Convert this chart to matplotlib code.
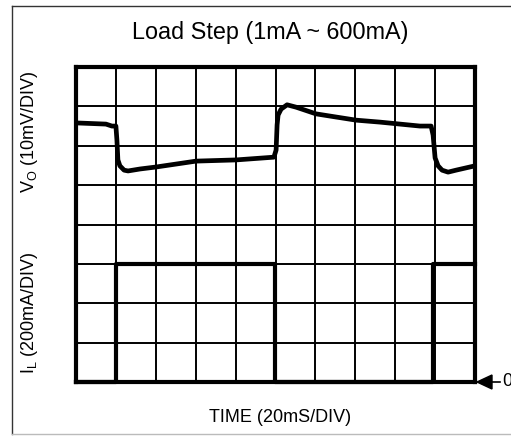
import matplotlib
matplotlib.use("Agg")
import matplotlib.pyplot as plt
from matplotlib.patches import Polygon
from matplotlib.lines import Line2D

plt.rcParams['font.family'] = ['Liberation Sans', 'DejaVu Sans']
plt.rcParams['mathtext.fontset'] = 'custom'
plt.rcParams['mathtext.rm'] = 'Liberation Sans'
plt.rcParams['mathtext.it'] = 'Liberation Sans'

# ---- data ----
title = "Load Step (1mA ~ 600mA)"
xlabel = "TIME (20mS/DIV)"
vo_label = r"$\mathregular{V_O}$ (10mV/DIV)"
il_label = r"$\mathregular{I_L}$ (200mA/DIV)"

# time in ms (20 ms/div), Vo trace position in divisions from bottom of screen
vo_time = [0, 15, 18, 20, 20.5, 21, 22, 24.1, 26.1, 32.1, 40.1, 60.2, 80.2, 99.2,
           100.3, 100.8, 101.3, 102.8, 105.8, 110.3, 120.3, 130.3, 140.4, 152.4,
           162.4, 172.4, 178, 179, 180, 181.5, 183.5, 186.5, 190.5, 200]
vo_div = [6.58, 6.55, 6.50, 6.50, 6.15, 5.64, 5.49, 5.38, 5.36, 5.41, 5.46, 5.61, 5.64, 5.71,
          5.89, 6.53, 6.78, 6.93, 7.04, 6.98, 6.81, 6.73, 6.65, 6.60,
          6.55, 6.50, 6.50, 6.27, 5.69, 5.49, 5.38, 5.33, 5.38, 5.49]

# load current (mA)
il_time = [0, 19.8, 19.8, 20.3, 20.3, 99.8, 99.8, 179, 179, 200]
il_ma = [0, 0, 220, 220, 600, 600, 0, 0, 600, 600]
il_scale = 200.0  # mA per division

n_xdiv = 10
n_ydiv = 8
ms_per_div = 20

# ---- figure ----
W, H = 511, 438
fig = plt.figure(figsize=(W / 100, H / 100), dpi=100)
fig.patch.set_facecolor('white')

# outer frame
fig.add_artist(Line2D([12 / W, 12 / W], [1 - 6 / H, 1 - 434 / H], color='#333333', lw=1.0))
fig.add_artist(Line2D([12 / W, 1.02], [1 - 6 / H, 1 - 6 / H], color='#333333', lw=1.0))
fig.add_artist(Line2D([12 / W, 1.02], [1 - 434 / H, 1 - 434 / H], color='#bbbbbb', lw=1.0))

x0, x1, y0, y1 = 76, 475, 67, 382
ax = fig.add_axes([x0 / W, 1 - y1 / H, (x1 - x0) / W, (y1 - y0) / H])
ax.set_xlim(0, n_xdiv * ms_per_div)
ax.set_ylim(0, n_ydiv)
ax.set_xticks([])
ax.set_yticks([])
for s in ax.spines.values():
    s.set_linewidth(3.0)
    s.set_color('black')

for i in range(1, n_xdiv):
    ax.axvline(i * ms_per_div, color='black', lw=1.4, zorder=1)
for j in range(1, n_ydiv):
    ax.axhline(j, color='black', lw=1.4, zorder=1)

ax.plot(vo_time, vo_div, color='black', lw=3.4, solid_joinstyle='round', zorder=3)
ax.plot(il_time, [v / il_scale for v in il_ma], color='black', lw=3.0, zorder=3, clip_on=False)

# zero marker arrow
tri = Polygon([[1 + 2 / 399, 0], [1 + 17 / 399, 7 / 315], [1 + 17 / 399, -7 / 315]],
              closed=True, transform=ax.transAxes, facecolor='black', edgecolor='black',
              clip_on=False)
ax.add_patch(tri)
ax.add_line(Line2D([1 + 17 / 399, 1 + 25 / 399], [0, 0], transform=ax.transAxes,
                   color='black', lw=1.2, clip_on=False))
ax.text(1 + 27 / 399, 0, "0", transform=ax.transAxes, ha='left', va='center',
        fontsize=13, clip_on=False)

fig.text(270 / W, 1 - 32 / H, title, ha='center', va='center', fontsize=16.8)
fig.text(280 / W, 1 - 418 / H, xlabel, ha='center', va='center', fontsize=13)
fig.text(29 / W, 1 - 132 / H, vo_label, ha='center', va='center', rotation=90, fontsize=13)
fig.text(29 / W, 1 - 313 / H, il_label, ha='center', va='center', rotation=90, fontsize=13)

fig.savefig("out.png", dpi=100, facecolor='white')
